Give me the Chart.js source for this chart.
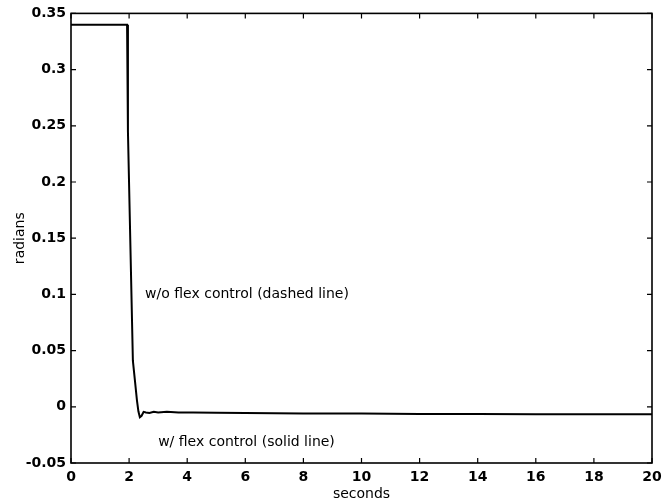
<!DOCTYPE html>
<html>
<head>
<meta charset="utf-8">
<script src="https://cdn.jsdelivr.net/npm/chart.js@4/dist/chart.umd.min.js"></script>
<style>
  html, body { margin: 0; padding: 0; background: #fff; }
  #wrap { width: 668px; height: 503px; }
</style>
</head>
<body>
<div id="wrap"><canvas id="c" width="668" height="503"></canvas></div>
<script>
// Data
const seconds = [0, 1.93, 1.96, 2.13, 2.20, 2.27, 2.32, 2.37, 2.43, 2.5, 2.58, 2.7, 2.85, 3.0, 3.3, 3.7, 4.2, 5, 6, 8, 10, 12, 14, 16, 18, 20];
const radians = [0.340, 0.340, 0.245, 0.041, 0.0235, 0.0058, -0.004, -0.0093, -0.008, -0.0045, -0.005, -0.0055, -0.0045, -0.005, -0.0045, -0.005, -0.005, -0.0052, -0.0055, -0.006, -0.006, -0.0063, -0.0065, -0.0066, -0.0066, -0.0066];
const xTicks = [0, 2, 4, 6, 8, 10, 12, 14, 16, 18, 20];
const yTicks = [-0.05, 0, 0.05, 0.1, 0.15, 0.2, 0.25, 0.3, 0.35];
const xTitle = 'seconds';
const yTitle = 'radians';
const notes = [
  { text: 'w/o flex control (dashed line)', x: 2.55, y: 0.1 },
  { text: 'w/ flex control (solid line)', x: 3.0, y: -0.0314 }
];

const points = seconds.map((t, i) => ({ x: t, y: radians[i] }));

const framePlugin = {
  id: 'frame',
  afterDraw(chart) {
    const { ctx, chartArea: { left, right, top, bottom }, scales: { x, y } } = chart;
    ctx.save();
    ctx.strokeStyle = '#000';
    ctx.lineWidth = 1.6;
    ctx.strokeRect(left, top, right - left, bottom - top);
    ctx.lineWidth = 1.2;
    ctx.beginPath();
    xTicks.forEach(v => {
      const px = x.getPixelForValue(v);
      ctx.moveTo(px, bottom); ctx.lineTo(px, bottom - 5);
      ctx.moveTo(px, top); ctx.lineTo(px, top + 5);
    });
    yTicks.forEach(v => {
      const py = y.getPixelForValue(v);
      ctx.moveTo(left, py); ctx.lineTo(left + 5, py);
      ctx.moveTo(right, py); ctx.lineTo(right - 5, py);
    });
    ctx.stroke();
    ctx.fillStyle = '#000';
    ctx.font = '14px "DejaVu Sans"';
    ctx.textAlign = 'left';
    ctx.textBaseline = 'middle';
    notes.forEach(n => {
      ctx.fillText(n.text, x.getPixelForValue(n.x), y.getPixelForValue(n.y));
    });
    ctx.restore();
  }
};

new Chart(document.getElementById('c'), {
  type: 'line',
  data: {
    datasets: [{
      data: points,
      borderColor: '#000',
      borderWidth: 2,
      pointRadius: 0,
      tension: 0,
      fill: false
    }]
  },
  options: {
    responsive: false,
    animation: false,
    layout: { padding: { top: 11, right: 16, left: 0, bottom: 0 } },
    plugins: { legend: { display: false }, tooltip: { enabled: false } },
    scales: {
      x: {
        type: 'linear',
        min: 0, max: 20,
        afterFit(s) { s.height = 40; },
        afterBuildTicks(s) { s.ticks = xTicks.map(v => ({ value: v })); },
        grid: { display: false, drawTicks: false },
        border: { display: false },
        ticks: { color: '#000', padding: 6, maxRotation: 0, font: { family: 'DejaVu Sans', size: 14, weight: 'bold' }, callback: v => String(v) },
        title: { display: true, text: xTitle, color: '#000', padding: { top: 0, bottom: 0 }, font: { family: 'DejaVu Sans', size: 14 } }
      },
      y: {
        type: 'linear',
        min: -0.05, max: 0.35,
        afterFit(s) { s.width = 71; },
        afterBuildTicks(s) { s.ticks = yTicks.map(v => ({ value: v })); },
        grid: { display: false, drawTicks: false },
        border: { display: false },
        ticks: { color: '#000', padding: 5, font: { family: 'DejaVu Sans', size: 14, weight: 'bold' }, callback: v => String(Math.round(v * 100) / 100) },
        title: { display: true, text: yTitle, color: '#000', padding: { top: 12, bottom: 0 }, font: { family: 'DejaVu Sans', size: 14 } }
      }
    }
  },
  plugins: [framePlugin]
});
</script>
</body>
</html>
